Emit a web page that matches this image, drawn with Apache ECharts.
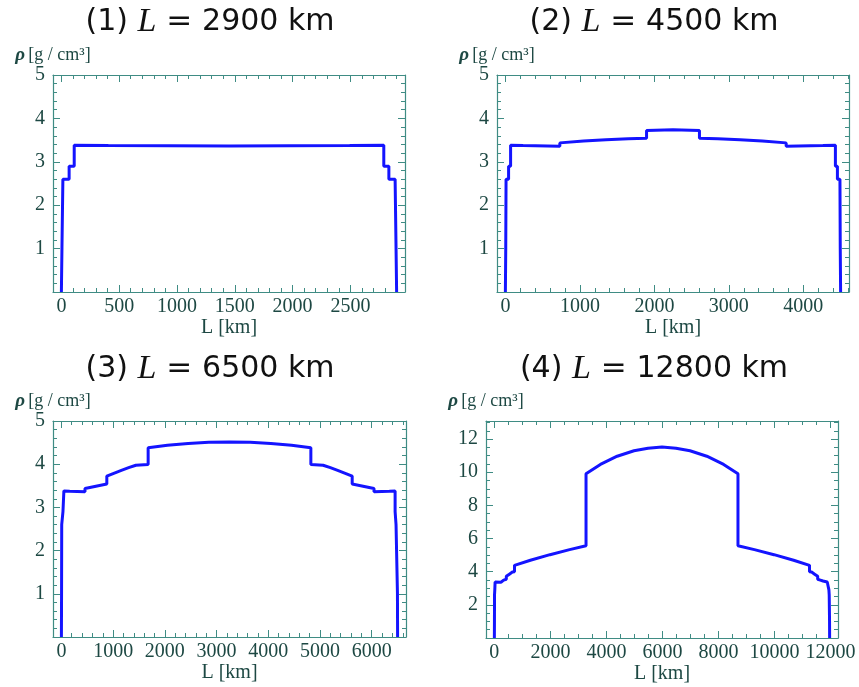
<!DOCTYPE html>
<html><head><meta charset="utf-8">
<script src="https://cdn.jsdelivr.net/npm/echarts@6/dist/echarts.min.js"></script>
<style>html,body{margin:0;padding:0;background:#fff}#c{width:859px;height:687px}</style>
</head><body><div id="c"></div>
<script>
// ---- data (distance along path in km, density in g/cm^3) ----
const km1 = [0,5,13,67,67,111,111,406,1450,2494,2789,2789,2833,2833,2887,2895,2900];
const rho1 = [0,1.02,2.6,2.6,2.9,2.9,3.381,3.375,3.365,3.375,3.381,2.9,2.9,2.6,2.6,1.02,0];

const km2 = [0,5,9,43,43,70,70,238,731,731,1050,1350,1650,1895,1895,2250,2605,2605,2850,3150,3450,3769,3769,4262,4430,4430,4457,4457,4491,4495,4500];
const rho2 = [0,1.02,2.6,2.6,2.9,2.9,3.381,3.375,3.36,3.436,3.478,3.509,3.532,3.543,3.724,3.737,3.724,3.543,3.532,3.509,3.478,3.436,3.36,3.375,3.381,2.9,2.9,2.6,2.6,1.02,0];

const km3 = [0,3,6,30,30,48,48,160,456,456,667,878,878,1000,1159,1300,1440,1677,1677,2050,2450,2850,3250,
             3650,4050,4450,4823,4823,5060,5200,5341,5500,5622,5622,5833,6044,6044,6340,6452,6452,6470,6470,6494,6497,6500];
const rho3 = [0,1.02,2.6,2.6,2.9,2.9,3.381,3.375,3.36,3.436,3.491,3.543,3.724,3.783,3.857,3.919,3.976,3.992,4.381,4.437,4.481,4.507,4.516,
             4.507,4.481,4.437,4.381,3.992,3.976,3.919,3.857,3.783,3.724,3.543,3.491,3.436,3.36,3.375,3.381,2.9,2.9,2.6,2.6,1.02,0];

const km4 = [0,3,5,15,15,26,26,85,234,234,331,427,427,536,643,718,718,1286,1986,2686,3273,3273,3786,4386,4986,5486,5986,
             6486,6986,7586,8186,8699,8699,9286,9986,10686,11254,11254,11329,11436,11545,11545,11641,11738,11738,11887,11946,11946,11957,11957,11967,11969,11972];
const rho4 = [0,1.02,2.6,2.6,2.9,2.9,3.381,3.375,3.36,3.436,3.49,3.543,3.724,3.851,3.976,3.992,4.381,4.689,5.026,5.33,5.566,9.903,10.471,10.966,11.295,11.45,11.52,
             11.45,11.295,10.966,10.471,9.903,5.566,5.33,5.026,4.689,4.381,3.992,3.976,3.851,3.724,3.543,3.49,3.436,3.36,3.375,3.381,2.9,2.9,2.6,2.6,1.02,0];

// ---- titles and tick labels ----
const panelNums = ['(1) ', '(2) ', '(3) ', '(4) '];
const panelLengths = ['2900 km', '4500 km', '6500 km', '12800 km'];
const xTicks1 = [0,500,1000,1500,2000,2500];
const xTicks2 = [0,1000,2000,3000,4000];
const xTicks3 = [0,1000,2000,3000,4000,5000,6000];
const xTicks4 = [0,2000,4000,6000,8000,10000,12000];
const yTicksA = [1,2,3,4,5];
const yTicksB = [2,4,6,8,10,12];

// ---- styling / layout ----
const FRAME = '#3f8c84';
const TXT = '#1d4843';
const LINE = '#1414ff';
function seq(a, b, s) { const o = []; for (let v = a; v <= b + 1e-9; v += s) o.push(+v.toFixed(6)); return o; }

const panels = [
  {km: km1, rho: rho1, grid: {left: 53, top: 75, width: 352, height: 217}, xmin: -72.5, xmax: 2972.5,
   xt: xTicks1, xm: seq(0, 2900, 100), ymax: 5, yt: yTicksA, ym: seq(0, 5, 0.2), tx: 210, ty: 22},
  {km: km2, rho: rho2, grid: {left: 497, top: 75, width: 352, height: 217}, xmin: -112.5, xmax: 4612.5,
   xt: xTicks2, xm: seq(0, 4600, 200), ymax: 5, yt: yTicksA, ym: seq(0, 5, 0.2), tx: 654, ty: 22},
  {km: km3, rho: rho3, grid: {left: 53, top: 421, width: 353, height: 216}, xmin: -162.5, xmax: 6662.5,
   xt: xTicks3, xm: seq(0, 6600, 200), ymax: 5, yt: yTicksA, ym: seq(0, 5, 0.2), tx: 210, ty: 369},
  {km: km4, rho: rho4, grid: {left: 486, top: 421, width: 352, height: 217}, xmin: -299, xmax: 12271,
   xt: xTicks4, xm: seq(0, 12000, 500), ymax: 13.09, yt: yTicksB, ym: seq(0, 13, 0.5), tx: 654, ty: 369}
];

const grids = [], xAxes = [], yAxes = [], series = [], graphics = [];
const plain = v => String(v);
panels.forEach((p, i) => {
  grids.push(Object.assign({containLabel: false}, p.grid));
  const baseX = {gridIndex: i, type: 'value', min: p.xmin, max: p.xmax, splitLine: {show: false}};
  const baseY = {gridIndex: i, type: 'value', min: 0, max: p.ymax, splitLine: {show: false}};
  const frameLine = {show: true, onZero: false, lineStyle: {color: FRAME, width: 1.2}};
  const noLine = {show: false, onZero: false};
  const tk = (vals, len) => ({show: true, inside: true, length: len, customValues: vals, lineStyle: {color: FRAME, width: 1}});
  xAxes.push(Object.assign({}, baseX, {position: 'bottom', axisLine: frameLine, axisTick: tk(p.xt, 7),
    axisLabel: {show: true, customValues: p.xt, formatter: plain, color: TXT, fontFamily: 'Liberation Serif', fontSize: 20, margin: 5},
    name: 'L [km]', nameLocation: 'middle', nameGap: 26,
    nameTextStyle: {color: TXT, fontFamily: 'Liberation Serif', fontSize: 20}}));
  xAxes.push(Object.assign({}, baseX, {position: 'bottom', axisLine: noLine, axisTick: tk(p.xm, 4), axisLabel: {show: false}}));
  xAxes.push(Object.assign({}, baseX, {position: 'top', axisLine: frameLine, axisTick: tk(p.xt, 7), axisLabel: {show: false}}));
  xAxes.push(Object.assign({}, baseX, {position: 'top', axisLine: noLine, axisTick: tk(p.xm, 4), axisLabel: {show: false}}));

  yAxes.push(Object.assign({}, baseY, {position: 'left', axisLine: frameLine, axisTick: tk(p.yt, 7),
    axisLabel: {show: true, customValues: p.yt, formatter: plain, color: TXT, fontFamily: 'Liberation Serif', fontSize: 20, margin: 8},
    name: '{p|ρ} {u|[g / cm³]}', nameLocation: 'end', nameGap: 10,
    nameTextStyle: {align: 'center', verticalAlign: 'bottom',
      rich: {p: {fontFamily: 'Liberation Serif', fontStyle: 'italic', fontWeight: 'bold', fontSize: 19, color: TXT},
             u: {fontFamily: 'Liberation Serif', fontSize: 18, color: TXT}}}}));
  yAxes.push(Object.assign({}, baseY, {position: 'left', axisLine: noLine, axisTick: tk(p.ym, 4), axisLabel: {show: false}}));
  yAxes.push(Object.assign({}, baseY, {position: 'right', axisLine: frameLine, axisTick: tk(p.yt, 7), axisLabel: {show: false}}));
  yAxes.push(Object.assign({}, baseY, {position: 'right', axisLine: noLine, axisTick: tk(p.ym, 4), axisLabel: {show: false}}));

  series.push({type: 'line', xAxisIndex: 4 * i, yAxisIndex: 4 * i, symbol: 'none', showSymbol: false,
    lineStyle: {color: LINE, width: 3}, data: p.km.map((k, j) => [k, p.rho[j]]), animation: false});

  graphics.push({type: 'text', x: p.tx, y: p.ty, style: {
    text: '{a|' + panelNums[i] + '}{l|L}{e| = }{a|' + panelLengths[i] + '}',
    align: 'center', verticalAlign: 'middle',
    rich: {a: {fontFamily: 'DejaVu Sans', fontSize: 30, fill: '#111', lineHeight: 38},
           l: {fontFamily: 'Liberation Serif', fontStyle: 'italic', fontSize: 34, fill: '#111', lineHeight: 38},
           e: {fontFamily: 'DejaVu Sans', fontSize: 31, fill: '#111', lineHeight: 38}}}});
});

const chart = echarts.init(document.getElementById('c'), null, {renderer: 'canvas'});
chart.setOption({
  animation: false,
  backgroundColor: '#ffffff',
  grid: grids, xAxis: xAxes, yAxis: yAxes, series: series, graphic: graphics
});
</script>
</body></html>
